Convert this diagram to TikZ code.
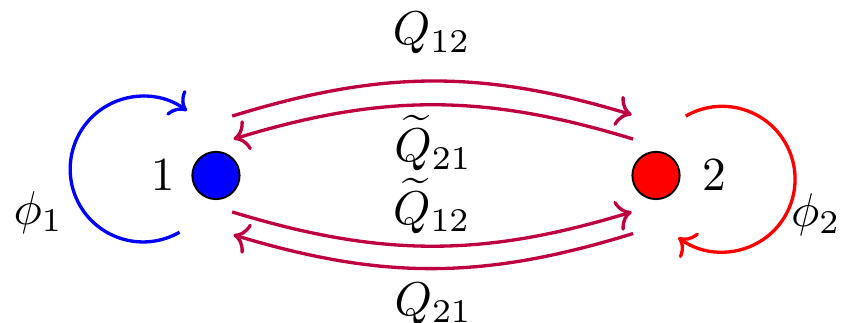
\documentclass[tikz,border=0pt]{standalone}
\usepackage{amsmath,amssymb}
\usetikzlibrary{arrows.meta,positioning,calc}

\begin{document}
\begin{tikzpicture}[>=To,
  site/.style={circle,draw,minimum size=0.35cm,inner sep=0pt},
  rate/.style={->,line width=0.7pt,purple,text=black},
  loopy/.style={->,line width=0.7pt}]
\useasboundingbox (-1.60,-1.09) rectangle (4.66,1.30);
\node[site,fill=blue] (v1) at (0,0) {};
\node[site,fill=red] (v2) at (3.26,0) {};
\node[left=0pt of v1] (n1) {$1$};
\node[right=1pt of v2] (n2) {$2$};
% transitions between the two sites
\draw[rate] ([shift={(0.12,0.44)}]v1.center) to[bend left=17]
  node[above=2pt] (q12) {$Q_{12}$} ([shift={(-0.18,0.45)}]v2.center);
\draw[rate] ([shift={(-0.17,0.27)}]v2.center) to[bend right=17]
  node[below=-1.4pt] (qt21) {$\widetilde{Q}_{21}$} ([shift={(0.13,0.27)}]v1.center);
\draw[rate] ([shift={(0.12,-0.27)}]v1.center) to[bend right=17]
  node[above=-1pt] (qt12) {$\widetilde{Q}_{12}$} ([shift={(-0.18,-0.27)}]v2.center);
\draw[rate] ([shift={(-0.17,-0.43)}]v2.center) to[bend left=17]
  node[below=-0.6pt] (q21) {$Q_{21}$} ([shift={(0.13,-0.44)}]v1.center);
% self loops
\draw[loopy,blue] ([shift={(-0.27,-0.42)}]v1.center) arc[start angle=-60,end angle=-307,radius=0.54];
\draw[loopy,red] ([shift={(0.22,0.44)}]v2.center) arc[start angle=120,end angle=-127,radius=0.54];
\node (f1) at ([shift={(-1.315,-0.274)}]v1.center) {$\phi_1$};
\node (f2) at ([shift={(1.185,-0.289)}]v2.center) {$\phi_2$};
\end{tikzpicture}
\end{document}
